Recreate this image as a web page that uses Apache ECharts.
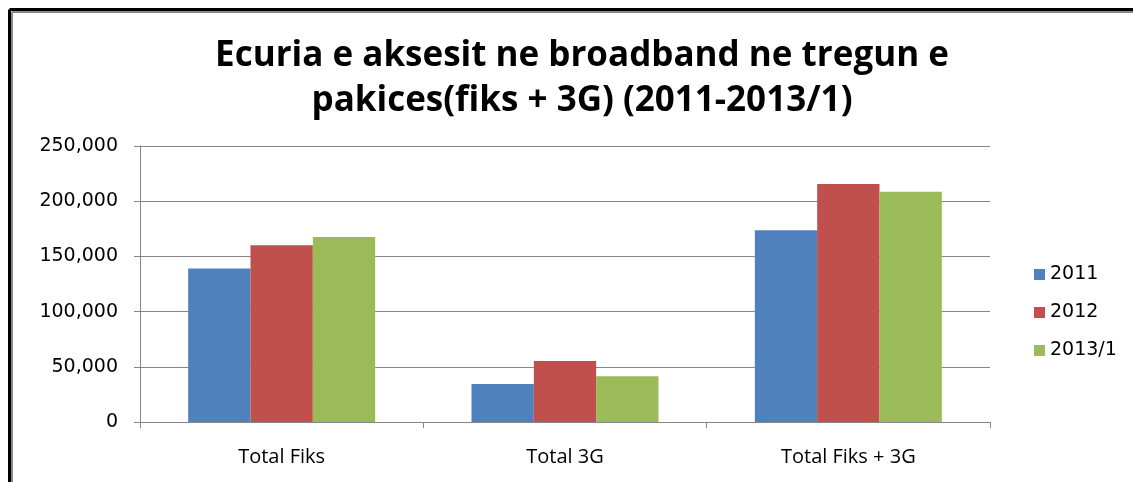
<!DOCTYPE html>
<html>
<head>
<meta charset="utf-8">
<title>Ecuria e aksesit ne broadband</title>
<script src="https://cdn.jsdelivr.net/npm/echarts@6/dist/echarts.min.js"></script>
<style>
  html, body { margin: 0; padding: 0; background: #fff; }
  #chart { width: 1133px; height: 482px; }
</style>
</head>
<body>
<div id="chart"></div>
<script>
// te dhenat
var categories = ['Total Fiks', 'Total 3G', 'Total Fiks + 3G']
var seriesNames = ['2011', '2012', '2013/1']
var values2011 = [139000, 34500, 173600]
var values2012 = [160000, 55300, 215600]
var values2013 = [167500, 41400, 208600]
var colors = ['#4F81BD', '#C0504D', '#9BBB59']

var chart = echarts.init(document.getElementById('chart'))

function makeSeries(name, data, i) {
  return {
    name: name,
    type: 'bar',
    data: data,
    barGap: '0%',
    barCategoryGap: '34%',
    itemStyle: { color: colors[i] },
    emphasis: { disabled: true }
  }
}

var option = {
  animation: false,
  title: {
    text: 'Ecuria e aksesit ne broadband ne tregun e\npakices(fiks + 3G) (2011-2013/1)',
    left: 577,
    textAlign: 'center',
    top: 29,
    textStyle: {
      fontFamily: 'Open Sans',
      fontWeight: 'bold',
      fontSize: 35,
      lineHeight: 45,
      color: '#000'
    }
  },
  legend: {
    orient: 'vertical',
    left: 1029,
    top: 260,
    itemWidth: 11,
    itemHeight: 11,
    itemGap: 19,
    icon: 'rect',
    data: seriesNames,
    textStyle: { fontFamily: 'DejaVu Sans', fontSize: 19, color: '#000', padding: [0, 0, 0, 0] }
  },
  grid: { left: 140, right: 143, top: 146, bottom: 60 },
  xAxis: {
    type: 'category',
    data: categories,
    axisLine: { lineStyle: { color: '#868686', width: 1 } },
    axisTick: { show: true, length: 6, lineStyle: { color: '#868686' } },
    axisLabel: { fontFamily: 'Open Sans', fontSize: 20, color: '#000', margin: 25 }
  },
  yAxis: {
    type: 'value',
    min: 0,
    max: 250000,
    interval: 50000,
    axisLine: { show: true, lineStyle: { color: '#868686' } },
    axisTick: { show: true, length: 6, lineStyle: { color: '#868686' } },
    splitLine: { lineStyle: { color: '#868686', width: 1 } },
    axisLabel: {
      fontFamily: 'DejaVu Sans',
      fontSize: 19,
      color: '#000',
      margin: 22,
      formatter: function (v) { return v.toLocaleString('en-US') }
    }
  },
  graphic: [
    // korniza
    { type: 'line', shape: { x1: 9.5, y1: 9.5, x2: 1140, y2: 9.5 }, style: { stroke: '#000', lineWidth: 3 } },
    { type: 'line', shape: { x1: 9.5, y1: 9.5, x2: 9.5, y2: 490 }, style: { stroke: '#000', lineWidth: 3 } },
    { type: 'line', shape: { x1: 12, y1: 12, x2: 1140, y2: 12 }, style: { stroke: '#8a8a8a', lineWidth: 2 } },
    { type: 'line', shape: { x1: 12, y1: 12, x2: 12, y2: 490 }, style: { stroke: '#8a8a8a', lineWidth: 2 } }
  ],
  series: [
    makeSeries(seriesNames[0], values2011, 0),
    makeSeries(seriesNames[1], values2012, 1),
    makeSeries(seriesNames[2], values2013, 2)
  ]
}

option && chart.setOption(option)
</script>
</body>
</html>
